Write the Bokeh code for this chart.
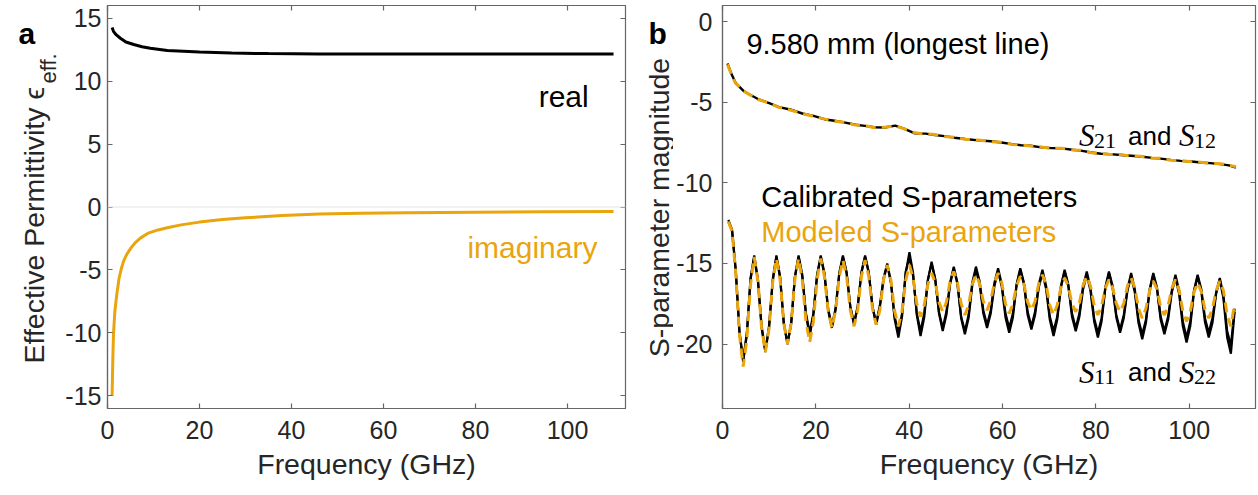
from bokeh.plotting import figure
from bokeh.layouts import row
from bokeh.models import Label, Span, FixedTicker, LinearAxis, Range1d, CustomLabelingPolicy
from bokeh.core.properties import value
from bokeh.embed import file_html
from bokeh.resources import INLINE

# ---------------- data: panel a ----------------
freq_real = [1.0, 1.3, 1.8, 2.8, 4.0, 5.7, 7.5, 9.3, 13, 20, 27, 35, 46, 60, 80, 110]
eps_real = [14.26, 13.95, 13.7, 13.4, 13.1, 12.9, 12.73, 12.6, 12.43, 12.3, 12.22, 12.18, 12.15, 12.14, 12.14, 12.15]
freq_imag = [1.0, 1.15, 1.3, 1.6, 2.0, 2.5, 3.0, 3.5, 4.2, 5.0, 6.0, 7.2, 9, 11, 13, 16, 20, 25, 30, 38, 46, 55, 65, 80, 95, 110]
eps_imag = [-15.0, -12.2, -10.1, -8.3, -7.0, -5.7, -4.9, -4.3, -3.75, -3.3, -2.85, -2.45, -2.05, -1.82, -1.65,
            -1.42, -1.2, -1.0, -0.86, -0.68, -0.56, -0.5, -0.45, -0.41, -0.38, -0.36]

# ---------------- data: panel b ----------------
s21_freq = [1.07, 2.0, 2.8, 4.5, 6.0, 7.8, 10, 12.1, 14.5, 17.1, 19.5, 22, 24, 26.3, 28.5, 30.5, 32.5, 34.8, 37, 39,
            41.2, 43.5, 45.5, 47.5, 49.7, 52, 54.8, 57.5, 59.8, 62, 64, 66, 68.3, 70.5, 72.6, 75, 76.8, 79, 81.1, 83,
            85.4, 87.5, 89.6, 92, 93.9, 96, 98.2, 100.5, 102.5, 104.5, 106.7, 108.5, 110]
s21_cal = [-2.6, -3.3, -3.8, -4.3, -4.55, -4.83, -5.05, -5.3, -5.45, -5.7, -5.85, -6.07, -6.15, -6.27, -6.4, -6.47,
           -6.55, -6.57, -6.45, -6.65, -6.93, -6.95, -7.03, -7.1, -7.2, -7.28, -7.37, -7.42, -7.5, -7.6, -7.67, -7.7,
           -7.8, -7.85, -7.86, -7.95, -8.0, -8.12, -8.2, -8.22, -8.27, -8.32, -8.37, -8.45, -8.5, -8.58, -8.64, -8.68,
           -8.74, -8.78, -8.84, -8.92, -9.05]
s21_model = [-2.65, -3.35, -3.82, -4.3, -4.57, -4.85, -5.05, -5.32, -5.48, -5.7, -5.88, -6.05, -6.18, -6.25, -6.42,
             -6.45, -6.58, -6.55, -6.47, -6.65, -6.9, -6.97, -7.0, -7.12, -7.18, -7.3, -7.35, -7.45, -7.48, -7.62,
             -7.65, -7.72, -7.78, -7.87, -7.85, -7.97, -7.98, -8.13, -8.18, -8.24, -8.25, -8.34, -8.35, -8.47, -8.48,
             -8.6, -8.62, -8.7, -8.72, -8.8, -8.82, -8.9, -9.0]

s11_freq = [1.26,
            2.05, 2.84, 3.63, 4.43, 5.22, 6.01,
            6.80, 7.59, 8.38, 9.18, 9.97, 10.76,
            11.55, 12.34, 13.13, 13.93, 14.72, 15.51,
            16.30, 17.09, 17.88, 18.68, 19.47, 20.26,
            21.05, 21.84, 22.63, 23.43, 24.22, 25.01,
            25.80, 26.59, 27.38, 28.18, 28.97, 29.76,
            30.55, 31.34, 32.13, 32.93, 33.72, 34.51,
            35.30, 36.09, 36.88, 37.68, 38.47, 39.26,
            40.05, 40.84, 41.63, 42.43, 43.22, 44.01,
            44.80, 45.59, 46.38, 47.18, 47.97, 48.76,
            49.55, 50.34, 51.13, 51.93, 52.72, 53.51,
            54.30, 55.09, 55.88, 56.68, 57.47, 58.26,
            59.05, 59.84, 60.63, 61.43, 62.22, 63.01,
            63.80, 64.59, 65.38, 66.18, 66.97, 67.76,
            68.55, 69.34, 70.13, 70.93, 71.72, 72.51,
            73.30, 74.09, 74.88, 75.68, 76.47, 77.26,
            78.05, 78.84, 79.63, 80.43, 81.22, 82.01,
            82.80, 83.59, 84.38, 85.18, 85.97, 86.76,
            87.55, 88.34, 89.13, 89.93, 90.72, 91.51,
            92.30, 93.09, 93.88, 94.68, 95.47, 96.26,
            97.05, 97.84, 98.63, 99.43, 100.22, 101.01,
            101.80, 102.59, 103.38, 104.18, 104.97, 105.76,
            106.55, 107.34, 108.13, 108.93, 109.72]

s11_model = [-12.4,
             -13.0, -15.6, -19.4, -21.4, -19.7, -16.3,
             -14.6, -16.1, -19.0, -20.5, -19.05, -16.15,
             -14.7, -16.0, -18.7, -20.0, -18.7, -16.0,
             -14.7, -16.0, -18.6, -19.9, -18.6, -16.0,
             -14.7, -15.8, -17.9, -19.0, -17.95, -15.85,
             -14.8, -15.8, -17.9, -18.9, -17.9, -15.8,
             -14.8, -15.8, -17.8, -18.8, -17.9, -16.0,
             -15.1, -16.05, -17.95, -18.9, -17.95, -16.05,
             -15.1, -15.9, -17.5, -18.3, -17.6, -16.3,
             -15.6, -16.2, -17.4, -18.0, -17.4, -16.1,
             -15.5, -16.2, -17.5, -18.2, -17.6, -16.3,
             -15.7, -16.25, -17.35, -17.9, -17.3, -16.2,
             -15.6, -16.2, -17.5, -18.1, -17.5, -16.4,
             -15.8, -16.3, -17.4, -17.9, -17.35, -16.25,
             -15.7, -16.3, -17.6, -18.2, -17.6, -16.5,
             -15.9, -16.4, -17.5, -18.0, -17.45, -16.35,
             -15.8, -16.4, -17.6, -18.2, -17.65, -16.55,
             -16.0, -16.5, -17.5, -18.0, -17.5, -16.4,
             -15.9, -16.5, -17.8, -18.4, -17.8, -16.7,
             -16.1, -16.6, -17.7, -18.2, -17.65, -16.55,
             -16.0, -16.65, -17.95, -18.6, -18.0, -16.8,
             -16.2, -16.75, -17.85, -18.4, -17.8, -16.7,
             -16.1, -16.7, -18.2, -18.9, -17.5]

s11_cal = [-12.3,
           -12.9, -15.4, -19.2, -21.0, -19.3, -15.9,
           -14.5, -16.0, -18.9, -20.4, -18.9, -16.0,
           -14.5, -15.8, -18.7, -20.0, -18.7, -15.8,
           -14.5, -15.7, -18.1, -19.3, -18.1, -15.7,
           -14.5, -15.6, -17.8, -18.9, -17.8, -15.6,
           -14.5, -15.55, -17.65, -18.7, -17.65, -15.55,
           -14.5, -15.55, -17.65, -18.7, -17.6, -15.9,
           -15.0, -16.15, -18.45, -19.6, -18.3, -15.6,
           -14.3, -15.6, -18.2, -19.5, -18.35, -16.05,
           -14.9, -16.0, -18.1, -19.2, -18.2, -16.3,
           -15.3, -16.3, -18.4, -19.4, -18.4, -16.4,
           -15.4, -16.3, -18.1, -19.0, -18.1, -16.4,
           -15.5, -16.45, -18.35, -19.3, -18.35, -16.35,
           -15.4, -16.3, -18.2, -19.1, -18.2, -16.5,
           -15.6, -16.6, -18.5, -19.5, -18.5, -16.5,
           -15.5, -16.4, -18.3, -19.2, -18.3, -16.6,
           -15.7, -16.7, -18.6, -19.6, -18.6, -16.6,
           -15.6, -16.55, -18.35, -19.3, -18.4, -16.7,
           -15.8, -16.8, -18.7, -19.7, -18.7, -16.7,
           -15.7, -16.6, -18.5, -19.4, -18.5, -16.8,
           -15.9, -16.9, -18.9, -19.9, -18.9, -16.8,
           -15.8, -16.75, -18.65, -19.6, -18.7, -16.9,
           -16.0, -17.2, -19.6, -20.6, -18.0]

s22_cal = [-12.4,
           -13.0, -15.5, -19.3, -21.1, -19.4, -16.0,
           -14.6, -16.1, -19.0, -20.5, -19.0, -16.1,
           -14.6, -15.9, -18.7, -20.0, -18.7, -15.9,
           -14.6, -15.8, -18.2, -19.5, -18.2, -15.8,
           -14.6, -15.7, -17.9, -19.0, -17.9, -15.7,
           -14.6, -15.6, -17.7, -18.8, -17.7, -15.6,
           -14.6, -15.6, -17.7, -18.8, -17.7, -16.0,
           -15.1, -16.2, -18.3, -19.3, -18.1, -15.5,
           -14.6, -15.8, -18.1, -19.2, -18.1, -16.0,
           -15.0, -16.0, -18.0, -19.0, -18.0, -16.2,
           -15.2, -16.2, -18.3, -19.2, -18.2, -16.2,
           -15.2, -16.1, -17.9, -18.8, -17.9, -16.2,
           -15.3, -16.3, -18.1, -19.0, -18.1, -16.3,
           -15.3, -16.2, -18.0, -18.9, -18.0, -16.3,
           -15.4, -16.4, -18.3, -19.2, -18.3, -16.4,
           -15.4, -16.3, -18.1, -19.0, -18.1, -16.4,
           -15.5, -16.5, -18.4, -19.3, -18.4, -16.5,
           -15.5, -16.4, -18.2, -19.1, -18.2, -16.6,
           -15.6, -16.6, -18.5, -19.4, -18.5, -16.6,
           -15.6, -16.5, -18.3, -19.2, -18.3, -16.7,
           -15.7, -16.7, -18.6, -19.6, -18.6, -16.7,
           -15.7, -16.6, -18.4, -19.3, -18.4, -16.8,
           -15.9, -17.0, -19.2, -20.1, -17.8]

x_ticks = [0, 20, 40, 60, 80, 100]
ya_ticks = [-15, -10, -5, 0, 5, 10, 15]
yb_ticks = [-20, -15, -10, -5, 0]

ORANGE = "#EAA40C"
AXC = "#666666"
TXT = "#262626"
FONT = "Liberation Sans"
SERIF = "Liberation Serif"
TOP, BOTTOM = 5, 87


def style(p, xt, yt, ystand):
    p.xgrid.visible = False
    p.ygrid.visible = False
    p.outline_line_color = AXC
    p.outline_line_width = 1.2
    for ax in [p.below[0], p.left[0]]:
        ax.major_tick_in = 5
        ax.major_tick_out = 0
        ax.minor_tick_line_color = None
        ax.axis_line_color = AXC
        ax.axis_line_width = 1.2
        ax.major_tick_line_color = AXC
        ax.major_tick_line_width = 1.2
        ax.major_label_text_font = FONT
        ax.major_label_text_font_size = "25px"
        ax.major_label_text_color = TXT
        ax.axis_label_text_font = FONT
        ax.axis_label_text_font_size = "28.5px"
        ax.axis_label_text_font_style = "normal"
        ax.axis_label_text_color = TXT
    xa = p.below[0]
    ya = p.left[0]
    xa.ticker = FixedTicker(ticks=xt)
    ya.ticker = FixedTicker(ticks=yt)
    ya.major_label_overrides = {t: str(t) for t in yt}
    xa.axis_label = "Frequency (GHz)"
    xa.major_label_standoff = 12
    xa.axis_label_standoff = 6
    ya.major_label_standoff = ystand
    for ticks, side in [(xt, "above"), (yt, "right")]:
        ax = LinearAxis(ticker=FixedTicker(ticks=ticks), major_label_text_font_size="0px",
                        major_label_policy=CustomLabelingPolicy(code="return []"),
                        major_label_standoff=0, major_tick_in=5, major_tick_out=0,
                        minor_tick_line_color=None, axis_line_color=AXC, major_tick_line_color=AXC,
                        major_tick_line_width=1.2)
        p.add_layout(ax, side)


def lab(p, x, y, text, size, color="black", align="left", style_="normal", font=FONT):
    p.add_layout(Label(x=x, y=y, text=text, text_font=font, text_font_size=size,
                       text_color=color, text_align=align, text_baseline="alphabetic",
                       text_font_style=style_))


def gutter(w):
    # frame spans screen rows TOP..(495-BOTTOM); y data = 495 - screen row
    g = figure(width=w, height=495, output_backend="svg", toolbar_location=None,
               x_range=Range1d(0, w), y_range=Range1d(BOTTOM, 495 - TOP),
               x_axis_location=None, y_axis_location=None,
               min_border_left=0, min_border_right=0, min_border_top=TOP, min_border_bottom=BOTTOM)
    g.grid.visible = False
    g.outline_line_color = None
    return g


def gtext(g, x, y, text, size, angle=0.0, align="left", style_="normal", color=TXT):
    g.text(x=[x], y=[y], text=[text], angle=angle, text_font=value(FONT), text_font_size=value(size),
           text_color=color, text_align=align, text_baseline="alphabetic", text_font_style=style_)


HALF_PI = 1.5707963

# ---------------- gutter a (panel letter + y label) ----------------
ga = gutter(60)
gtext(ga, 18, 495 - 33, "a", "30px", style_="bold", color="black")
gtext(ga, 33, 495 - 363, "Effective Permittivity \u03f5", "28.5px", angle=HALF_PI)
gtext(ga, 48, 495 - 83, "eff.", "22px", angle=HALF_PI)

# ---------------- panel a ----------------
pa = figure(width=569, height=495, output_backend="svg", toolbar_location=None,
            x_range=Range1d(0, 112.6), y_range=Range1d(-16, 16),
            min_border_left=47, min_border_right=4, min_border_top=TOP, min_border_bottom=BOTTOM)
style(pa, x_ticks, ya_ticks, 6)

pa.add_layout(Span(location=0, dimension="width", line_color="#e4e4e4", line_width=1.2))
pa.line(freq_real, eps_real, line_color="black", line_width=3)
pa.line(freq_imag, eps_imag, line_color=ORANGE, line_width=3)

lab(pa, 104.6, 8.79, "real", "30px", "black", "right")
lab(pa, 106.5, -3.25, "imaginary", "30px", ORANGE, "right")

# ---------------- gutter b ----------------
gb = gutter(44)
gtext(gb, 19, 495 - 33, "b", "30px", style_="bold", color="black")
gtext(gb, 29, 495 - 207, "S-parameter magnitude", "28.5px", angle=HALF_PI, align="center")

# ---------------- panel b ----------------
pb = figure(width=585, height=495, output_backend="svg", toolbar_location=None,
            x_range=Range1d(0, 114.2), y_range=Range1d(-24, 1),
            min_border_left=47, min_border_right=3, min_border_top=TOP, min_border_bottom=BOTTOM)
style(pb, x_ticks, yb_ticks, 10)

pb.line(s21_freq, s21_cal, line_color="black", line_width=2.4)
pb.line(s11_freq, s11_cal, line_color="black", line_width=2.2)
pb.line(s11_freq, s22_cal, line_color="black", line_width=2.2)
pb.line(s21_freq, s21_model, line_color=ORANGE, line_width=3, line_dash="10 6")
pb.line(s11_freq, s11_model, line_color=ORANGE, line_width=3, line_dash="10 6")

lab(pb, 5.12, -1.36, "9.580 mm (longest line)", "29px", "black")
lab(pb, 8.32, -10.91, "Calibrated S-parameters", "29px", "black")
lab(pb, 8.32, -13.08, "Modeled S-parameters", "29px", ORANGE)

for (yb, sa, sb) in [(-7.07, "21", "12"), (-21.74, "11", "22")]:
    lab(pb, 76.4, yb, "S", "31px", "black", "left", "italic", SERIF)
    lab(pb, 79.6, yb - 0.33, sa, "22px", "black", "left", "normal", SERIF)
    lab(pb, 86.9, yb, "and", "26px", "black", "left")
    lab(pb, 97.8, yb, "S", "31px", "black", "left", "italic", SERIF)
    lab(pb, 101.0, yb - 0.33, sb, "22px", "black", "left", "normal", SERIF)

layout = row(ga, pa, gb, pb)
open("out.html", "w").write(file_html(layout, INLINE))
